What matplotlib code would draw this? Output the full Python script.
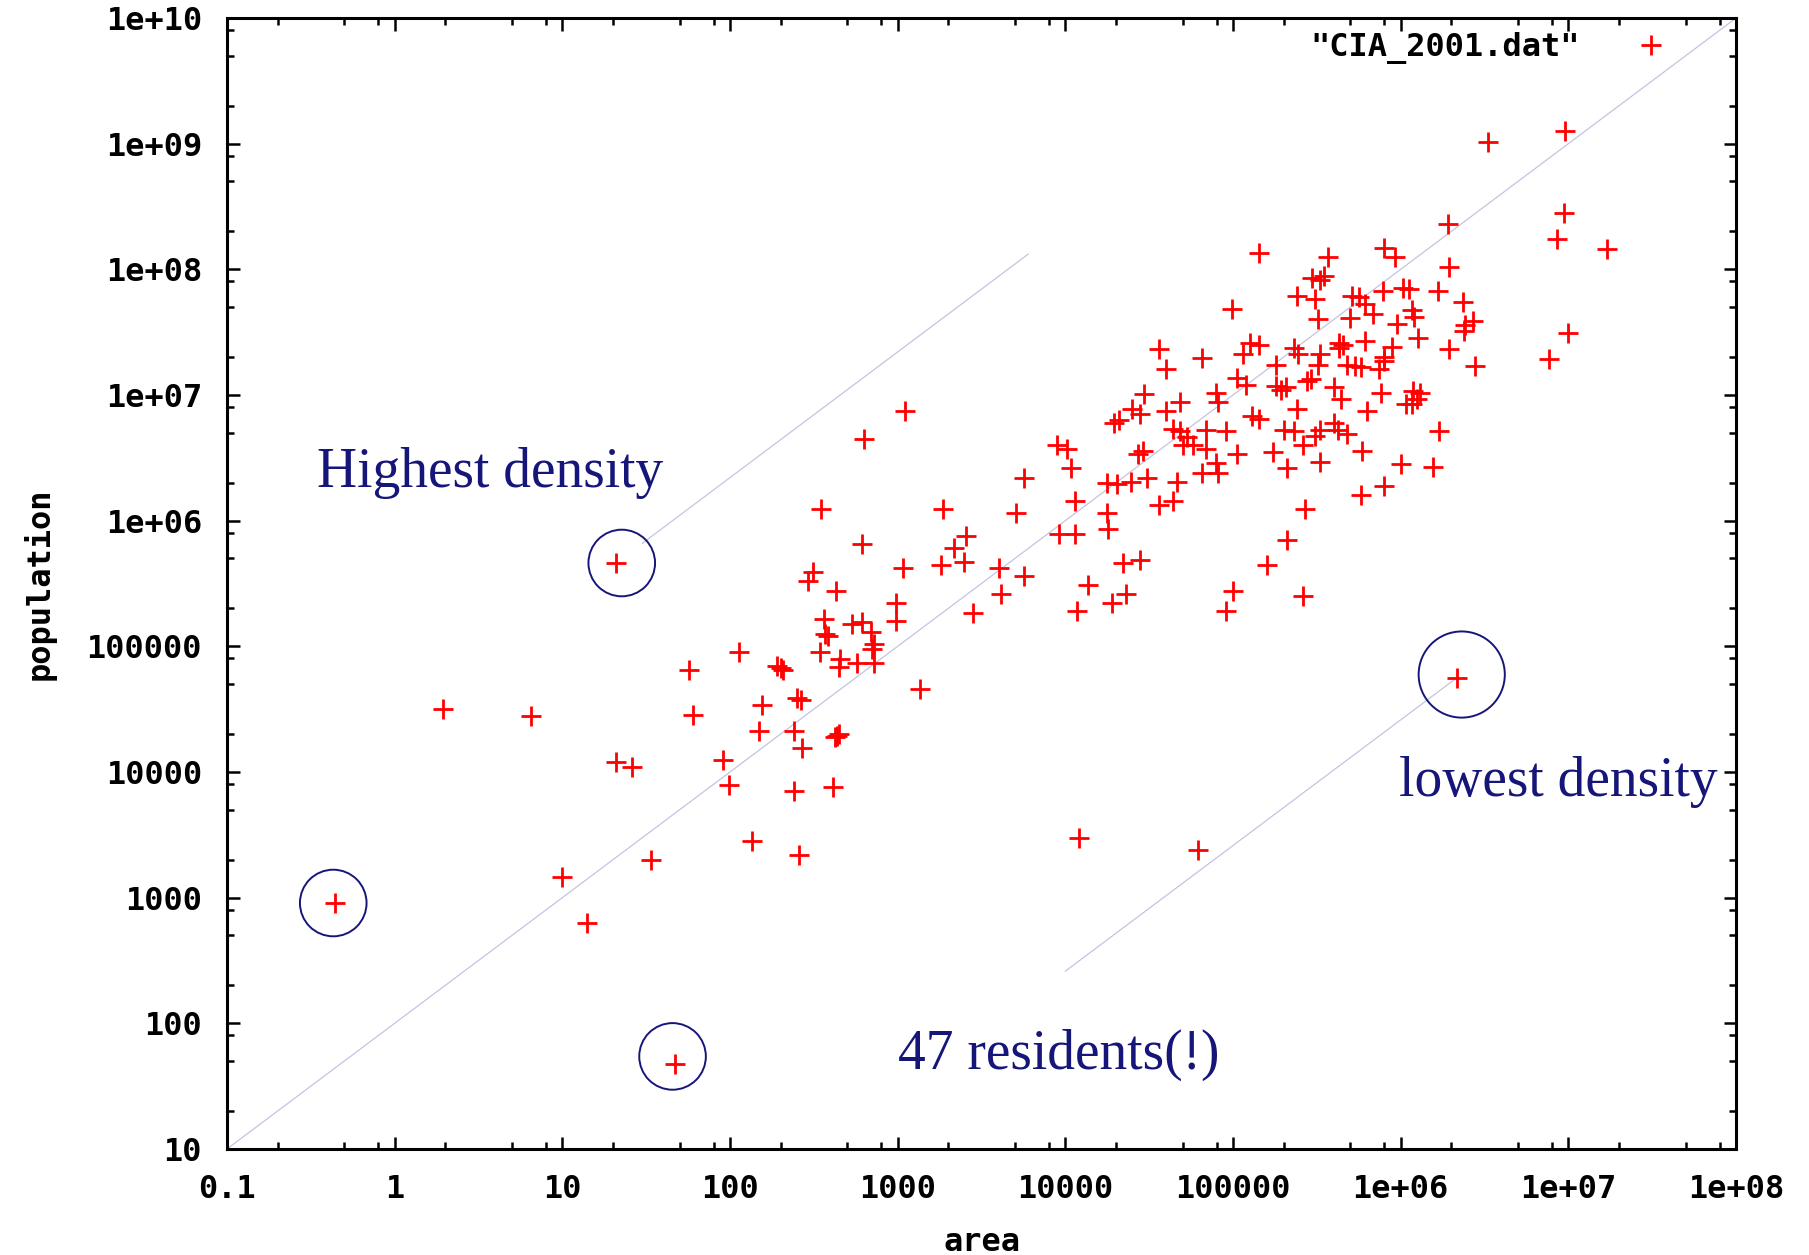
import matplotlib
matplotlib.use("Agg")
import matplotlib.pyplot as plt
from matplotlib.ticker import LogLocator, NullFormatter

# country area (km^2) and population
area = [
    0.44, 1.95, 6.5, 10, 14, 21, 26, 21, 34, 47,
    57, 60, 91, 98, 113, 135, 149, 156, 190, 200,
    206, 250, 265, 240, 268, 420, 432, 445, 240, 410,
    259, 1350, 344, 366, 451, 445, 571, 725, 700, 725,
    980, 537, 615, 690, 2800, 1100, 628, 350, 1850, 610,
    2550, 2170, 2500, 1800, 1080, 313, 290, 430, 975, 361,
    385, 8900, 1.02e4, 1.08e4, 5700, 5100, 1.14e4, 9100, 1.14e4, 4000,
    5700, 4150, 1.76e4, 2.03e4, 2.46e4, 3.06e4, 1.76e4, 1.8e4, 3.6e4, 4.4e4,
    4.6e4, 6.5e4, 7.9e4, 8.1e4, 2.7e4, 2.9e4, 5e4, 5.8e4, 6.9e4, 2.2e4,
    2.8e4, 1.37e4, 2.3e4, 1.9e4, 1.17e4, 9.1e4, 1e5, 1.05e5, 9.9e4, 3.6e4,
    6.5e4, 4e4, 2.95e4, 1.95e4, 2.1e4, 2.5e4, 2.8e4, 4e4, 4.8e4, 4.4e4,
    4.8e4, 5.3e4, 6.9e4, 9.1e4, 7.9e4, 8.1e4, 1.05e5, 1.42e5, 3.66e5, 8e5,
    9.2e5, 1.94e6, 2.95e5, 3.3e5, 3.5e5, 2.4e5, 3.1e5, 5.1e5, 5.6e5, 6.1e5,
    6.8e5, 7.8e5, 1.03e6, 1.12e6, 1.66e6, 2.35e6, 3.2e5, 5e5, 9.5e5, 1.17e6,
    1.2e6, 2.43e6, 2.7e6, 2.38e6, 1.26e6, 1.94e6, 2.76e6, 4.3e5, 4.3e5, 4.5e5,
    6.1e5, 2.3e5, 2.45e5, 3.3e5, 8.9e5, 7.9e5, 1.8e5, 3.2e5, 4.8e5, 5.3e5,
    5.8e5, 7.4e5, 7.9e5, 2.75e5, 2.9e5, 1.2e5, 1.8e5, 1.92e5, 2.07e5, 4e5,
    4.4e5, 7.6e5, 1.19e6, 1.25e6, 1.3e6, 1.17e6, 1.08e6, 6.3e5, 2.4e5, 2e5,
    2.3e5, 1.3e5, 1.42e5, 3.3e5, 3.1e5, 4e5, 4.2e5, 4.8e5, 1.7e6, 1.26e5,
    1.42e5, 1.15e5, 1.74e5, 2.1e5, 2.6e5, 3.3e5, 5.9e5, 1e6, 1.56e6, 5.8e5,
    8e5, 2.7e5, 2.1e5, 1.6e5, 2.6e5, 9.6e6, 3.3e6, 9.4e6, 8.5e6, 1.7e7,
    1.92e6, 1e7, 7.7e6, 1.2e4, 6.2e4, 2.17e6,
]
population = [
    900, 31700, 27700, 1450, 630, 12100, 11000, 4.6e5, 2000, 47,
    6.5e4, 2.85e4, 1.25e4, 7900, 9e4, 2800, 2.1e4, 3.4e4, 7e4, 6.7e4,
    6.5e4, 3.9e4, 3.75e4, 2.1e4, 1.55e4, 1.9e4, 1.95e4, 2e4, 7100, 7600,
    2200, 4.6e4, 9e4, 1.26e5, 7.9e4, 6.9e4, 7.4e4, 7.4e4, 9.6e4, 1.05e5,
    1.6e5, 1.5e5, 1.55e5, 1.3e5, 1.85e5, 7.4e6, 4.5e6, 1.24e6, 1.24e6, 6.5e5,
    7.6e5, 6e5, 4.7e5, 4.4e5, 4.2e5, 3.9e5, 3.3e5, 2.76e5, 2.2e5, 1.66e5,
    1.2e5, 4e6, 3.7e6, 2.6e6, 2.2e6, 1.16e6, 1.43e6, 7.8e5, 7.8e5, 4.2e5,
    3.6e5, 2.6e5, 2e6, 1.96e6, 2.04e6, 2.2e6, 1.14e6, 8.6e5, 1.34e6, 1.43e6,
    2.04e6, 2.4e6, 2.9e6, 2.4e6, 3.4e6, 3.6e6, 4e6, 4e6, 3.7e6, 4.6e5,
    4.9e5, 3.06e5, 2.6e5, 2.2e5, 1.9e5, 1.9e5, 2.76e5, 3.4e6, 4.8e7, 2.3e7,
    1.96e7, 1.6e7, 1.02e7, 6e6, 6.3e6, 7.8e6, 7e6, 7.4e6, 8.8e6, 5.4e6,
    5.2e6, 4.6e6, 5.3e6, 5.2e6, 1.04e7, 8.8e6, 1.37e7, 1.34e8, 1.26e8, 1.48e8,
    1.26e8, 1.04e8, 8.6e7, 8.2e7, 8.8e7, 6.1e7, 5.8e7, 6.1e7, 6e7, 5.3e7,
    4.4e7, 6.7e7, 7.1e7, 7e7, 6.7e7, 5.5e7, 4e7, 4.1e7, 3.7e7, 4.7e7,
    4.2e7, 3.6e7, 3.9e7, 3.2e7, 2.86e7, 2.3e7, 1.7e7, 2.6e7, 2.35e7, 2.5e7,
    2.7e7, 2.35e7, 2.1e7, 2.1e7, 2.4e7, 2e7, 1.74e7, 1.74e7, 1.74e7, 1.7e7,
    1.66e7, 1.6e7, 1.86e7, 1.3e7, 1.35e7, 1.2e7, 1.18e7, 1.1e7, 1.16e7, 1.16e7,
    9.2e6, 1.04e7, 1.07e7, 9.2e6, 1.04e7, 8.4e6, 8.4e6, 7.4e6, 7.8e6, 5.3e6,
    5.2e6, 6.8e6, 6.4e6, 5.3e6, 4.7e6, 6e6, 5.3e6, 4.9e6, 5.2e6, 2.6e7,
    2.5e7, 2.1e7, 3.5e6, 2.6e6, 4e6, 2.95e6, 3.6e6, 2.8e6, 2.66e6, 1.6e6,
    1.87e6, 1.24e6, 7e5, 4.4e5, 2.5e5, 1.27e9, 1.03e9, 2.8e8, 1.74e8, 1.46e8,
    2.3e8, 3.1e7, 1.95e7, 3000, 2400, 5.6e4,
]

x_ticks = [0.1, 1, 10, 100, 1e3, 1e4, 1e5, 1e6, 1e7, 1e8]
x_tick_labels = ["0.1", "1", "10", "100", "1000", "10000", "100000",
                 "1e+06", "1e+07", "1e+08"]
y_ticks = [10, 100, 1e3, 1e4, 1e5, 1e6, 1e7, 1e8, 1e9, 1e10]
y_tick_labels = ["10", "100", "1000", "10000", "100000", "1e+06",
                 "1e+07", "1e+08", "1e+09", "1e+10"]

# constant-density guide lines (people per km^2) and their area range
line_density = [100, 2.2e4, 0.026]
line_start = [0.1, 30, 1e4]
line_end = [1e8, 6000, 2.1e6]

# circled countries
circle_area = [0.43, 22.6, 45.4, 2.31e6]
circle_pop = [906, 4.6e5, 54.5, 5.96e4]
circle_size = [2300, 2300, 2300, 3850]

note_text = ["Highest density", "lowest density", "47 residents(!)"]
note_area = [0.344, 9.8e5, 1000]
note_pop = [2.4e6, 8.3e3, 56]

mono = {"family": "DejaVu Sans Mono", "weight": "bold", "size": 23}
navy = "#16167a"

fig = plt.figure(figsize=(18.09, 12.55), dpi=100)
ax = fig.add_axes([0.1255, 0.0845, 0.8342, 0.9012])
ax.set_xscale("log")
ax.set_yscale("log")

for d, x0, x1 in zip(line_density, line_start, line_end):
    ax.plot([x0, x1], [d * x0, d * x1], color="#c4c4e2", lw=0.9, zorder=1)

ax.plot(area, population, "+", color="red", ms=14, mew=2.0,
        label='"CIA_2001.dat"', zorder=3)

ax.scatter(circle_area, circle_pop, s=circle_size, marker="o",
           facecolors="none", edgecolors=navy, linewidths=1.4, zorder=4)

for t, x, y in zip(note_text, note_area, note_pop):
    ax.text(x, y, t, family="Liberation Serif", fontsize=40, color=navy,
            ha="left", va="center")

ax.set_xlim(0.1, 1e8)
ax.set_ylim(10, 1e10)
ax.set_xticks(x_ticks)
ax.set_xticklabels(x_tick_labels, **mono)
ax.set_yticks(y_ticks)
ax.set_yticklabels(y_tick_labels, **mono)
ax.xaxis.set_minor_locator(LogLocator(base=10, subs=(2, 5, 8), numticks=30))
ax.yaxis.set_minor_locator(LogLocator(base=10, subs=(2, 5, 8), numticks=30))
ax.xaxis.set_minor_formatter(NullFormatter())
ax.yaxis.set_minor_formatter(NullFormatter())
ax.tick_params(which="both", direction="in", top=True, right=True,
               width=1.8, pad=18, colors="black")
ax.tick_params(which="major", length=9)
ax.tick_params(which="minor", length=5)
for s in ax.spines.values():
    s.set_linewidth(2.2)

ax.set_xlabel("area", labelpad=16, **mono)
ax.set_ylabel("population", labelpad=22, **mono)

ax.legend(loc="upper right", bbox_to_anchor=(0.965, 0.9876), frameon=False,
          markerfirst=False, borderaxespad=0, borderpad=0,
          handletextpad=1.25, handlelength=2,
          prop={"family": "DejaVu Sans Mono", "weight": "bold", "size": 23})

fig.savefig("out.png", dpi=100)
